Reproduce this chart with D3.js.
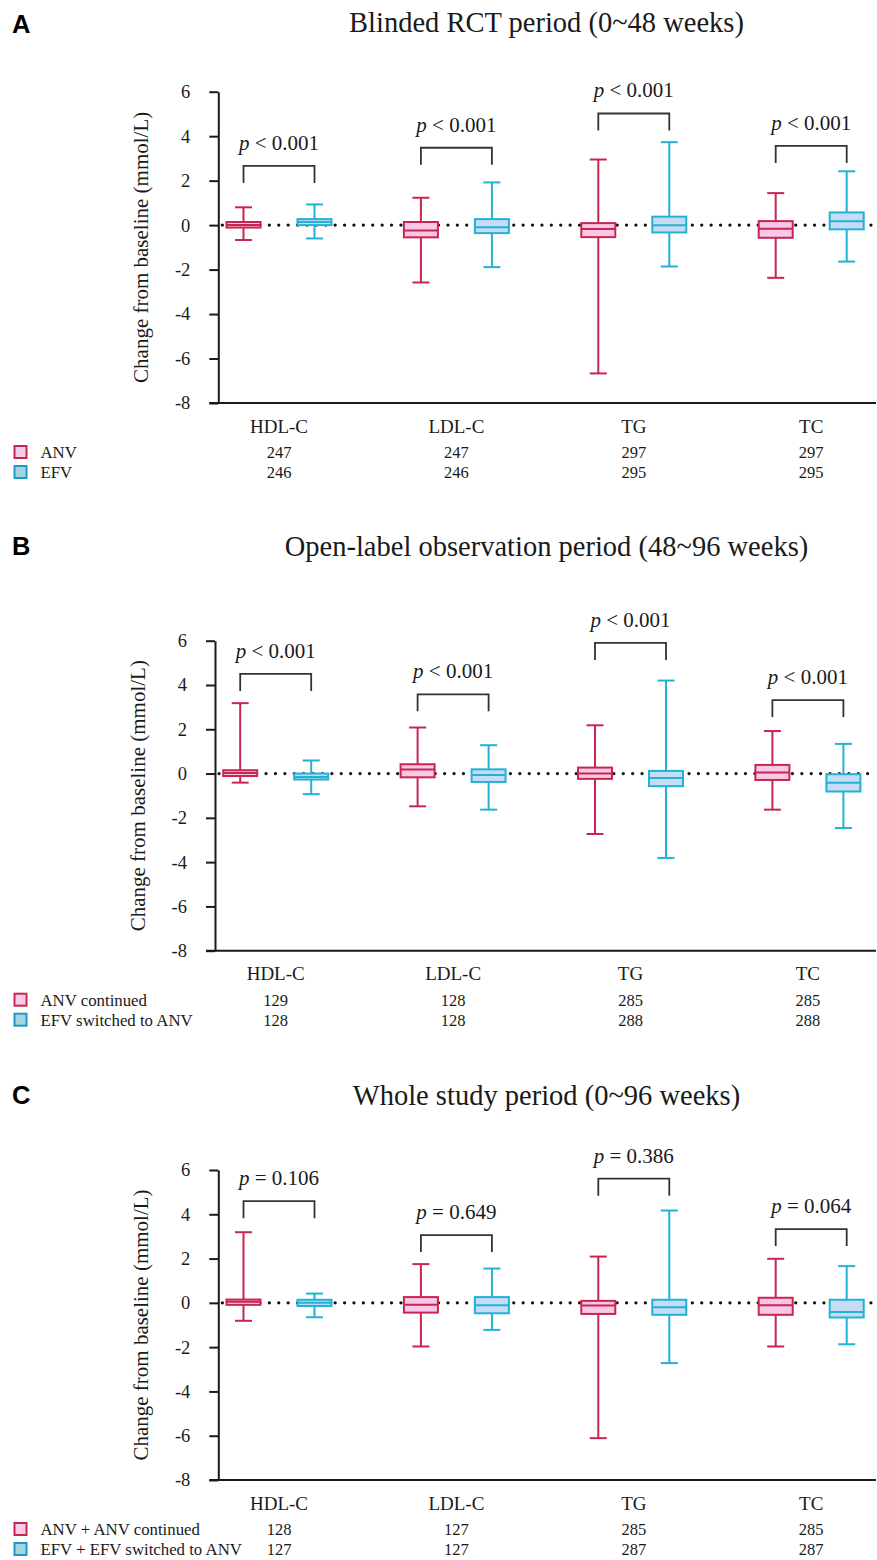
<!DOCTYPE html>
<html>
<head>
<meta charset="utf-8">
<script src="https://cdn.jsdelivr.net/npm/d3@7/dist/d3.min.js"></script>
<style>
  html, body { margin: 0; padding: 0; background: #fff; }
  svg { display: block; }
</style>
</head>
<body>
<script>
// ---------------- DATA ----------------
const categories = ["HDL-C", "LDL-C", "TG", "TC"];
const yTicks = [-8, -6, -4, -2, 0, 2, 4, 6];

// box stats: [min, q1, median, q3, max]
const panelA_ANV = [[-0.67, -0.11, 0.01, 0.14, 0.80], [-2.58, -0.55, -0.24, 0.14, 1.23], [-6.67, -0.54, -0.18, 0.09, 2.95], [-2.37, -0.57, -0.16, 0.18, 1.44]];
const panelA_EFV = [[-0.60, 0.00, 0.14, 0.27, 0.93], [-1.89, -0.36, -0.10, 0.27, 1.92], [-1.86, -0.33, -0.01, 0.38, 3.73], [-1.64, -0.19, 0.17, 0.57, 2.42]];
const panelA_nANV = [247, 247, 297, 297];
const panelA_nEFV = [246, 246, 295, 295];
const panelA_p = ["< 0.001", "< 0.001", "< 0.001", "< 0.001"];
const panelA_bracket = [2.66, 3.48, 5.02, 3.56];

const panelB_ANV = [[-0.41, -0.11, 0.03, 0.15, 3.18], [-1.48, -0.17, 0.18, 0.42, 2.08], [-2.73, -0.24, 0.00, 0.27, 2.18], [-1.63, -0.29, 0.05, 0.39, 1.92]];
const panelB_EFV = [[-0.93, -0.27, -0.15, 0.00, 0.59], [-1.63, -0.38, -0.06, 0.19, 1.28], [-3.81, -0.57, -0.20, 0.12, 4.20], [-2.46, -0.81, -0.42, -0.03, 1.34]];
const panelB_nANV = [129, 128, 285, 285];
const panelB_nEFV = [128, 128, 288, 288];
const panelB_p = ["< 0.001", "< 0.001", "< 0.001", "< 0.001"];
const panelB_bracket = [4.50, 3.58, 5.90, 3.32];

const panelC_ANV = [[-0.81, -0.09, 0.05, 0.15, 3.19], [-1.97, -0.44, -0.08, 0.26, 1.75], [-6.11, -0.50, -0.12, 0.09, 2.09], [-1.97, -0.54, -0.11, 0.23, 1.99]];
const panelC_EFV = [[-0.65, -0.14, 0.00, 0.14, 0.42], [-1.22, -0.47, -0.11, 0.26, 1.55], [-2.72, -0.54, -0.20, 0.14, 4.17], [-1.87, -0.66, -0.41, 0.14, 1.66]];
const panelC_nANV = [128, 127, 285, 285];
const panelC_nEFV = [127, 127, 287, 287];
const panelC_p = ["= 0.106", "= 0.649", "= 0.386", "= 0.064"];
const panelC_bracket = [4.59, 3.06, 5.61, 3.33];

const panelLetters = ["A", "B", "C"];
const panelTitles = ["Blinded RCT period (0~48 weeks)", "Open-label observation period (48~96 weeks)", "Whole study period (0~96 weeks)"];
const legendANV = ["ANV", "ANV continued", "ANV + ANV continued"];
const legendEFV = ["EFV", "EFV switched to ANV", "EFV + EFV switched to ANV"];
const yLabel = "Change from baseline (mmol/L)";

// ---------------- STYLE ----------------
const SERIF = "'Liberation Serif', 'Times New Roman', serif";
const SANS = "'Liberation Sans', Arial, sans-serif";
const colANV = { stroke: "#c8264f", fill: "#f8c8e8", legFill: "#f8cde8" };
const colEFV = { stroke: "#22b2d3", fill: "#c6dbf6", legFill: "#a3d4e2", legStroke: "#1b9ac6" };
const INK = "#1a1a1a";

const layout = [
  { top: 91.7, bottom: 403, axisX: 218.3, titleY: 32, letterY: 33 },
  { top: 640.7, bottom: 950.7, axisX: 215, titleY: 556, letterY: 555 },
  { top: 1170, bottom: 1480, axisX: 218.3, titleY: 1105, letterY: 1104 }
];

const panels = [
  { anv: panelA_ANV, efv: panelA_EFV, nA: panelA_nANV, nE: panelA_nEFV, p: panelA_p, br: panelA_bracket },
  { anv: panelB_ANV, efv: panelB_EFV, nA: panelB_nANV, nE: panelB_nEFV, p: panelB_p, br: panelB_bracket },
  { anv: panelC_ANV, efv: panelC_EFV, nA: panelC_nANV, nE: panelC_nEFV, p: panelC_p, br: panelC_bracket }
];

const svg = d3.select("body").append("svg")
  .attr("width", 877).attr("height", 1560)
  .style("background", "#fff");

panels.forEach((P, pi) => {
  const L = layout[pi];
  const g = svg.append("g");

  const y = d3.scaleLinear().domain([-8, 6]).range([L.bottom, L.top]);
  const x = d3.scalePoint().domain(categories).range([L.axisX + 60.7, L.axisX + 592.9]);
  const sub = d3.scalePoint().domain(["ANV", "EFV"]).range([-35.5, 35.5]);

  // Panel letter
  g.append("text").attr("x", 12).attr("y", L.letterY)
    .attr("font-family", SANS).attr("font-weight", "bold").attr("font-size", 25.5)
    .attr("fill", "#000").text(panelLetters[pi]);

  // Title
  g.append("text").attr("x", 546.5).attr("y", L.titleY)
    .attr("text-anchor", "middle")
    .attr("font-family", SERIF).attr("font-size", 28.5).attr("fill", INK)
    .text(panelTitles[pi]);

  // Y axis
  const yAxis = d3.axisLeft(y).tickValues(yTicks).tickSize(9).tickSizeOuter(0).tickPadding(19)
    .tickFormat(d => String(d));
  const ya = g.append("g").attr("transform", `translate(${L.axisX},0)`).call(yAxis);
  ya.select(".domain").attr("stroke", INK).attr("stroke-width", 2);
  ya.selectAll(".tick line").attr("stroke", INK).attr("stroke-width", 2);
  ya.selectAll(".tick text").attr("font-family", SERIF).attr("font-size", 18.5).attr("fill", INK);

  // X axis line
  g.append("line").attr("x1", L.axisX - 9).attr("x2", 876)
    .attr("y1", y(-8)).attr("y2", y(-8))
    .attr("stroke", INK).attr("stroke-width", 2);

  // Y label
  const ly = (L.top + L.bottom) / 2;
  const lx = L.axisX - 70;
  g.append("text").attr("transform", `translate(${lx},${ly}) rotate(-90)`)
    .attr("text-anchor", "middle")
    .attr("font-family", SERIF).attr("font-size", 21).attr("fill", INK)
    .text(yLabel);

  // Zero dotted line
  g.append("line").attr("x1", L.axisX + 4).attr("x2", 877)
    .attr("y1", y(0)).attr("y2", y(0))
    .attr("stroke", "#111").attr("stroke-width", 3.2)
    .attr("stroke-linecap", "round").attr("stroke-dasharray", "0.1 9.3");

  // Boxes
  const groups = [
    { key: "ANV", data: P.anv, col: colANV },
    { key: "EFV", data: P.efv, col: colEFV }
  ];
  const bw = 34, cw = 17;
  groups.forEach(G => {
    G.data.forEach((s, i) => {
      const cx = x(categories[i]) + sub(G.key);
      const [mn, q1, md, q3, mx] = s;
      const bg = g.append("g");
      bg.append("line").attr("x1", cx).attr("x2", cx).attr("y1", y(mn)).attr("y2", y(mx))
        .attr("stroke", G.col.stroke).attr("stroke-width", 2);
      [mn, mx].forEach(v => {
        bg.append("line").attr("x1", cx - cw / 2).attr("x2", cx + cw / 2)
          .attr("y1", y(v)).attr("y2", y(v))
          .attr("stroke", G.col.stroke).attr("stroke-width", 2);
      });
      bg.append("rect").attr("x", cx - bw / 2).attr("width", bw)
        .attr("y", y(q3)).attr("height", Math.max(1, y(q1) - y(q3)))
        .attr("fill", G.col.fill).attr("stroke", G.col.stroke).attr("stroke-width", 2);
      bg.append("line").attr("x1", cx - bw / 2).attr("x2", cx + bw / 2)
        .attr("y1", y(md)).attr("y2", y(md))
        .attr("stroke", G.col.stroke).attr("stroke-width", 2);
    });
  });

  // Brackets + p values
  categories.forEach((c, i) => {
    const x1 = x(c) + sub("ANV"), x2 = x(c) + sub("EFV");
    const yb = y(P.br[i]);
    g.append("path")
      .attr("d", `M${x1},${yb + 17}V${yb}H${x2}V${yb + 17}`)
      .attr("fill", "none").attr("stroke", "#333").attr("stroke-width", 1.8);
    const t = g.append("text").attr("x", x(c)).attr("y", yb - 16)
      .attr("text-anchor", "middle")
      .attr("font-family", SERIF).attr("font-size", 21).attr("fill", INK);
    t.append("tspan").attr("font-style", "italic").text("p");
    t.append("tspan").text(" " + P.p[i]);
  });

  // Category labels
  const base = y(-8);
  categories.forEach(c => {
    g.append("text").attr("x", x(c)).attr("y", base + 29.5)
      .attr("text-anchor", "middle")
      .attr("font-family", SERIF).attr("font-size", 19).attr("fill", INK).text(c);
  });

  // Legend rows + n
  const rows = [
    { label: legendANV[pi], n: P.nA, fill: colANV.legFill, stroke: colANV.stroke, dy: 49.5 },
    { label: legendEFV[pi], n: P.nE, fill: colEFV.legFill, stroke: colEFV.legStroke, dy: 69.5 }
  ];
  rows.forEach(r => {
    const cy = base + r.dy;
    g.append("rect").attr("x", 14.5).attr("y", cy - 6.5).attr("width", 12).attr("height", 12)
      .attr("fill", r.fill).attr("stroke", r.stroke).attr("stroke-width", 2);
    g.append("text").attr("x", 40.5).attr("y", cy + 5.5)
      .attr("font-family", SERIF).attr("font-size", 16.8).attr("fill", INK).text(r.label);
    r.n.forEach((n, i) => {
      g.append("text").attr("x", x(categories[i])).attr("y", cy + 5.5)
        .attr("text-anchor", "middle")
        .attr("font-family", SERIF).attr("font-size", 16.5).attr("fill", INK).text(n);
    });
  });
});
</script>
</body>
</html>
